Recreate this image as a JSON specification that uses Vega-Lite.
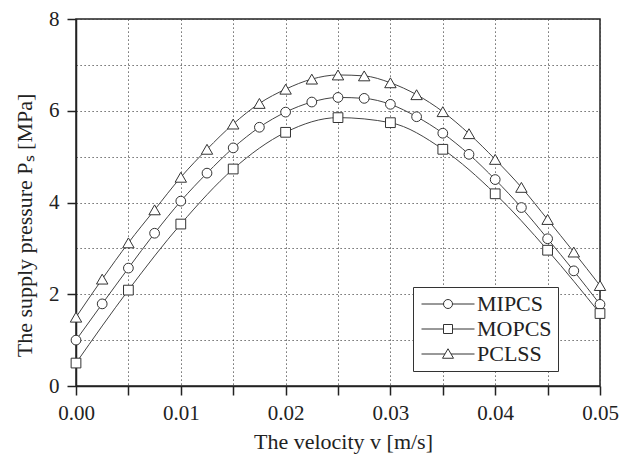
{
  "$schema": "https://vega.github.io/schema/vega-lite/v6.json",
  "width": 524,
  "height": 367,
  "autosize": {"type": "none"},
  "padding": {"left": 76, "top": 19, "right": 29, "bottom": 71},
  "background": "white",
  "config": {
    "view": {"stroke": "#222", "strokeWidth": 1.5},
    "font": "Liberation Serif",
    "axis": {
      "labelFont": "Liberation Serif",
      "titleFont": "Liberation Serif",
      "labelFontSize": 21,
      "titleFontSize": 22,
      "titleFontWeight": "normal",
      "labelColor": "#222",
      "titleColor": "#222",
      "domainColor": "#222",
      "domainWidth": 1.5,
      "tickColor": "#222",
      "tickWidth": 1.5,
      "tickSize": 9,
      "grid": true,
      "gridDash": [1.2, 2.8],
      "gridColor": "#444",
      "gridWidth": 1,
      "labelOverlap": false,
      "labelFlush": false
    }
  },
  "data": {
    "values": [
      {"v": 0, "p": 1.0, "s": "MIPCS"},
      {"v": 0.0025, "p": 1.79, "s": "MIPCS"},
      {"v": 0.005, "p": 2.57, "s": "MIPCS"},
      {"v": 0.0075, "p": 3.33, "s": "MIPCS"},
      {"v": 0.01, "p": 4.03, "s": "MIPCS"},
      {"v": 0.0125, "p": 4.64, "s": "MIPCS"},
      {"v": 0.015, "p": 5.19, "s": "MIPCS"},
      {"v": 0.0175, "p": 5.64, "s": "MIPCS"},
      {"v": 0.02, "p": 5.97, "s": "MIPCS"},
      {"v": 0.0225, "p": 6.19, "s": "MIPCS"},
      {"v": 0.025, "p": 6.29, "s": "MIPCS"},
      {"v": 0.0275, "p": 6.27, "s": "MIPCS"},
      {"v": 0.03, "p": 6.14, "s": "MIPCS"},
      {"v": 0.0325, "p": 5.87, "s": "MIPCS"},
      {"v": 0.035, "p": 5.51, "s": "MIPCS"},
      {"v": 0.0375, "p": 5.05, "s": "MIPCS"},
      {"v": 0.04, "p": 4.5, "s": "MIPCS"},
      {"v": 0.0425, "p": 3.89, "s": "MIPCS"},
      {"v": 0.045, "p": 3.21, "s": "MIPCS"},
      {"v": 0.0475, "p": 2.51, "s": "MIPCS"},
      {"v": 0.05, "p": 1.78, "s": "MIPCS"},
      {"v": 0, "p": 0.5, "s": "MOPCS"},
      {"v": 0.005, "p": 2.09, "s": "MOPCS"},
      {"v": 0.01, "p": 3.53, "s": "MOPCS"},
      {"v": 0.015, "p": 4.73, "s": "MOPCS"},
      {"v": 0.02, "p": 5.53, "s": "MOPCS"},
      {"v": 0.025, "p": 5.85, "s": "MOPCS"},
      {"v": 0.03, "p": 5.74, "s": "MOPCS"},
      {"v": 0.035, "p": 5.16, "s": "MOPCS"},
      {"v": 0.04, "p": 4.19, "s": "MOPCS"},
      {"v": 0.045, "p": 2.96, "s": "MOPCS"},
      {"v": 0.05, "p": 1.58, "s": "MOPCS"},
      {"v": 0, "p": 1.5, "s": "PCLSS"},
      {"v": 0.0025, "p": 2.33, "s": "PCLSS"},
      {"v": 0.005, "p": 3.12, "s": "PCLSS"},
      {"v": 0.0075, "p": 3.84, "s": "PCLSS"},
      {"v": 0.01, "p": 4.55, "s": "PCLSS"},
      {"v": 0.0125, "p": 5.16, "s": "PCLSS"},
      {"v": 0.015, "p": 5.71, "s": "PCLSS"},
      {"v": 0.0175, "p": 6.16, "s": "PCLSS"},
      {"v": 0.02, "p": 6.47, "s": "PCLSS"},
      {"v": 0.0225, "p": 6.69, "s": "PCLSS"},
      {"v": 0.025, "p": 6.78, "s": "PCLSS"},
      {"v": 0.0275, "p": 6.76, "s": "PCLSS"},
      {"v": 0.03, "p": 6.61, "s": "PCLSS"},
      {"v": 0.0325, "p": 6.35, "s": "PCLSS"},
      {"v": 0.035, "p": 5.98, "s": "PCLSS"},
      {"v": 0.0375, "p": 5.5, "s": "PCLSS"},
      {"v": 0.04, "p": 4.94, "s": "PCLSS"},
      {"v": 0.0425, "p": 4.33, "s": "PCLSS"},
      {"v": 0.045, "p": 3.63, "s": "PCLSS"},
      {"v": 0.0475, "p": 2.92, "s": "PCLSS"},
      {"v": 0.05, "p": 2.19, "s": "PCLSS"}
    ]
  },
  "encoding": {
    "x": {
      "field": "v",
      "type": "quantitative",
      "scale": {"domain": [0, 0.05], "nice": false, "zero": false},
      "axis": {
        "title": "The velocity v [m/s]",
        "values": [0, 0.005, 0.01, 0.015, 0.02, 0.025, 0.03, 0.035, 0.04, 0.045, 0.05],
        "labelExpr": "round(datum.value * 1000) % 10 == 0 ? format(datum.value, '.2f') : ''",
        "labelPadding": 7,
        "titleX": 267,
        "titleY": 62,
        "titleBaseline": "alphabetic",
        "titleAlign": "center"
      }
    },
    "y": {
      "field": "p",
      "type": "quantitative",
      "scale": {"domain": [0, 8], "nice": false},
      "axis": {
        "title": "The supply pressure Pₛ [MPa]",
        "values": [0, 1, 2, 3, 4, 5, 6, 7, 8],
        "labelExpr": "datum.value % 2 == 0 ? datum.label : ''",
        "tickOpacity": {"condition": {"test": "datum.value % 2 == 0", "value": 1}, "value": 0},
        "labelPadding": 8,
        "titleAngle": -90,
        "titleX": -52,
        "titleY": 206,
        "titleBaseline": "middle",
        "titleAlign": "center"
      }
    }
  },
  "layer": [
    {
      "mark": {"type": "line", "interpolate": "monotone", "color": "#444", "strokeWidth": 1},
      "encoding": {"detail": {"field": "s"}}
    },
    {
      "mark": {"type": "point", "filled": true, "fill": "white", "stroke": "#333", "strokeWidth": 1, "opacity": 1},
      "encoding": {
        "shape": {
          "field": "s",
          "type": "nominal",
          "scale": {"domain": ["MIPCS", "MOPCS", "PCLSS"], "range": ["circle", "square", "triangle-up"]},
          "legend": null
        },
        "size": {"condition": {"test": "datum.s === 'PCLSS'", "value": 130}, "value": 95}
      }
    },
    {
      "transform": [{"filter": "datum.p > 100"}],
      "mark": {"type": "point", "filled": false, "color": "#333", "strokeWidth": 1, "opacity": 1},
      "encoding": {
        "shape": {
          "field": "s",
          "type": "nominal",
          "scale": {
            "domain": ["MIPCS", "MOPCS", "PCLSS"],
            "range": [
              "M-5.3,0H-0.9M0.9,0H5.3M-0.9,0C-0.9,-0.5,-0.5,-0.9,0,-0.9C0.5,-0.9,0.9,-0.5,0.9,0C0.9,0.5,0.5,0.9,0,0.9C-0.5,0.9,-0.9,0.5,-0.9,0Z",
              "M-5.3,0H-0.9M0.9,0H5.3M-0.9,-0.9H0.9V0.9H-0.9Z",
              "M-5.3,0H-0.6M0.6,0H5.3M0,-1.05L1.1,0.85H-1.1Z"
            ]
          },
          "legend": {
            "title": null,
            "orient": "none",
            "legendX": 337,
            "legendY": 268,
            "symbolSize": 100,
            "symbolOffset": 18,
            "labelFont": "Liberation Serif",
            "labelFontSize": 22,
            "labelColor": "#222",
            "labelOffset": 18,
            "strokeColor": "#333",
            "fillColor": "white",
            "padding": 6,
            "rowPadding": 3,
            "symbolStrokeWidth": 1,
            "symbolStrokeColor": "#333",
            "symbolOpacity": 1
          }
        }
      }
    }
  ],
  "resolve": {"scale": {"shape": "independent"}, "legend": {"shape": "independent"}}
}
